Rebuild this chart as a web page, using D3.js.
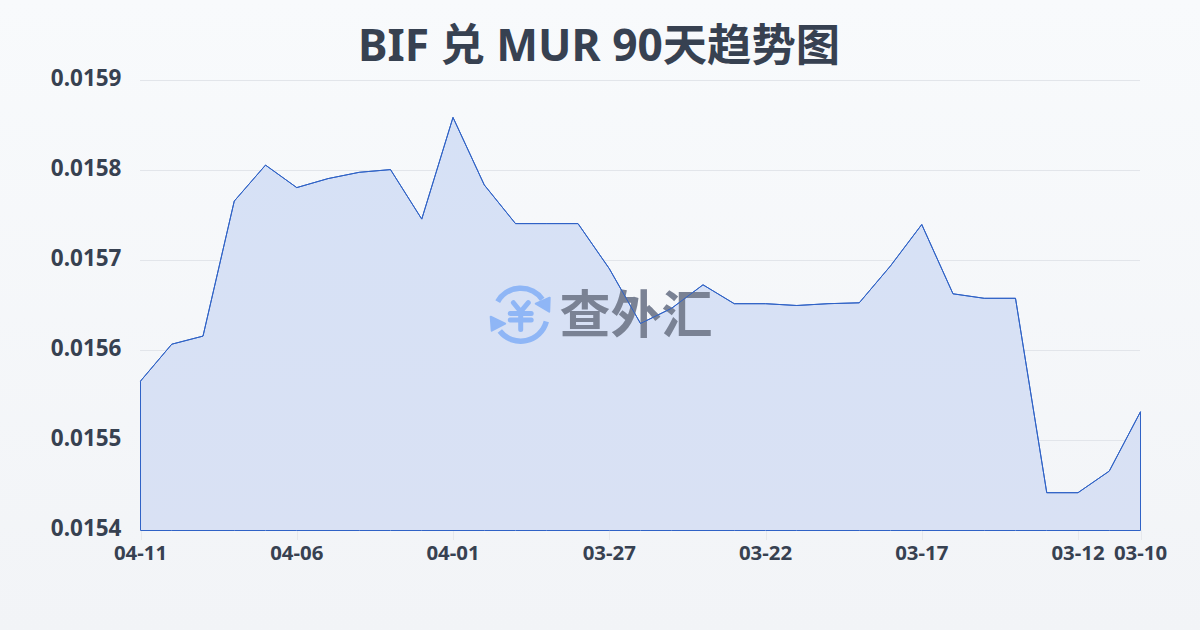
<!DOCTYPE html>
<html><head><meta charset="utf-8">
<script src="https://cdn.jsdelivr.net/npm/d3@7"></script>
<style>html,body{margin:0;padding:0;width:1200px;height:630px;overflow:hidden}svg{display:block}
text{font-family:"Noto Sans","Noto Sans CJK SC",sans-serif}</style></head><body>
<svg id="c" width="1200" height="630"></svg>
<script>
const titleText = "BIF 兑 MUR 90天趋势图";
const watermarkText = "查外汇";
const dates = ["04-11","04-10","04-09","04-08","04-07","04-06","04-05","04-04","04-03","04-02","04-01","03-31","03-30","03-29","03-28","03-27","03-26","03-25","03-24","03-23","03-22","03-21","03-20","03-19","03-18","03-17","03-16","03-15","03-14","03-13","03-12","03-11","03-10"];
const rates = [0.015566,0.015607,0.015616,0.015766,0.015806,0.015781,0.015791,0.015798,0.015801,0.015746,0.015859,0.015784,0.015741,0.015741,0.015741,0.015691,0.015630,0.015647,0.015673,0.015652,0.015652,0.015650,0.015652,0.015653,0.015694,0.015740,0.015663,0.015658,0.015658,0.015442,0.015442,0.015466,0.015532];
const yTicks = [0.0154,0.0155,0.0156,0.0157,0.0158,0.0159];
const xTickLabels = ["04-11","04-06","04-01","03-27","03-22","03-17","03-12","03-10"];

const svg = d3.select("#c");
const defs = svg.append("defs");
const bg = defs.append("linearGradient").attr("id","bg").attr("x1",0).attr("y1",0).attr("x2",0).attr("y2",1);
bg.append("stop").attr("offset",0).attr("stop-color","#f8fafc");
bg.append("stop").attr("offset",1).attr("stop-color","#f2f4f7");
const fg = defs.append("linearGradient").attr("id","fg").attr("gradientUnits","userSpaceOnUse").attr("x1",0).attr("y1",117).attr("x2",0).attr("y2",530);
fg.append("stop").attr("offset",0).attr("stop-color","#d6e1f6");
fg.append("stop").attr("offset",1).attr("stop-color","#d9e1f4");
svg.append("rect").attr("width",1200).attr("height",630).attr("fill","url(#bg)");

const x = d3.scalePoint().domain(dates).range([140.5,1140.5]);
const y = d3.scaleLinear().domain([0.0154,0.0159]).range([530.5,80.5]);

svg.append("text").attr("x",599).attr("y",61).attr("text-anchor","middle")
  .attr("font-size",44.3).attr("font-weight",700).attr("fill","#374151").text(titleText);

// grid
svg.append("g").selectAll("line").data(yTicks.slice(1)).join("line")
  .attr("x1",140).attr("x2",1140).attr("y1",d=>y(d)).attr("y2",d=>y(d))
  .attr("stroke","#e2e5ea").attr("stroke-width",1);

// y axis labels
svg.append("g").selectAll("text").data(yTicks).join("text")
  .attr("x",121.5).attr("y",d=>y(d)+5.5).attr("text-anchor","end")
  .attr("font-size",22.5).attr("font-weight",700).attr("fill","#374151")
  .text(d=>d.toFixed(4));

// x axis
const xAxis = svg.append("g");
xAxis.selectAll("line").data(xTickLabels).join("line")
  .attr("x1",d=>Math.round(x(d))+.5).attr("x2",d=>Math.round(x(d))+.5).attr("y1",530).attr("y2",540)
  .attr("stroke","#e6e8ec");
xAxis.selectAll("text").data(xTickLabels).join("text")
  .attr("x",d=>x(d)).attr("y",560).attr("text-anchor","middle")
  .attr("font-size",20.4).attr("font-weight",700).attr("fill","#374151").text(d=>d);

// area
const area = d3.area().x(d=>x(d.date)).y0(y(0.0154)).y1(d=>y(d.rate));
const pts = dates.map((d,i)=>({date:d,rate:rates[i]}));
svg.append("path").attr("d",area(pts)+"Z").attr("fill","url(#fg)").attr("stroke","#2f62c6").attr("stroke-width",1).attr("stroke-linejoin","miter");

// watermark
const wm = svg.append("g");
const ic = wm.append("g").attr("transform","translate(520.7,314.7)").attr("fill","none").attr("stroke","#8fb6f6").attr("stroke-linecap","round");
ic.append("path").attr("stroke-width",5.5).attr("d",d3.arc().innerRadius(26.5).outerRadius(26.5)({startAngle:-1.05,endAngle:0.95}));
ic.append("path").attr("stroke-width",5.5).attr("d",d3.arc().innerRadius(26.5).outerRadius(26.5)({startAngle:1.83,endAngle:4.05}));
ic.append("path").attr("stroke","#8fb6f6").attr("stroke-width",2).attr("stroke-linejoin","round").attr("fill","#8fb6f6").attr("d",d3.line()([[29,-17],[28.5,-3],[15,-11]])+"Z");
ic.append("path").attr("stroke","#8fb6f6").attr("stroke-width",2).attr("stroke-linejoin","round").attr("fill","#8fb6f6").attr("d",d3.line()([[-30,2],[-29,16],[-15.5,9]])+"Z");
ic.append("path").attr("stroke-width",5).attr("d","M-7.3,-12L0,-3L7.6,-12M-10.5,-1.3H10.5M-10.5,5.3H10.5M0,-3V14.7");
wm.append("text").attr("x",636).attr("y",333).attr("text-anchor","middle").attr("font-size",51).attr("font-weight",700)
  .attr("fill","#7a8294").attr("font-family","'Noto Sans CJK SC'").text(watermarkText);

// line on top
svg.append("path").attr("d",d3.line().x(d=>x(d.date)).y(d=>y(d.rate))(pts)).attr("fill","none").attr("stroke","#2f62c6").attr("stroke-width",1);
</script></body></html>
